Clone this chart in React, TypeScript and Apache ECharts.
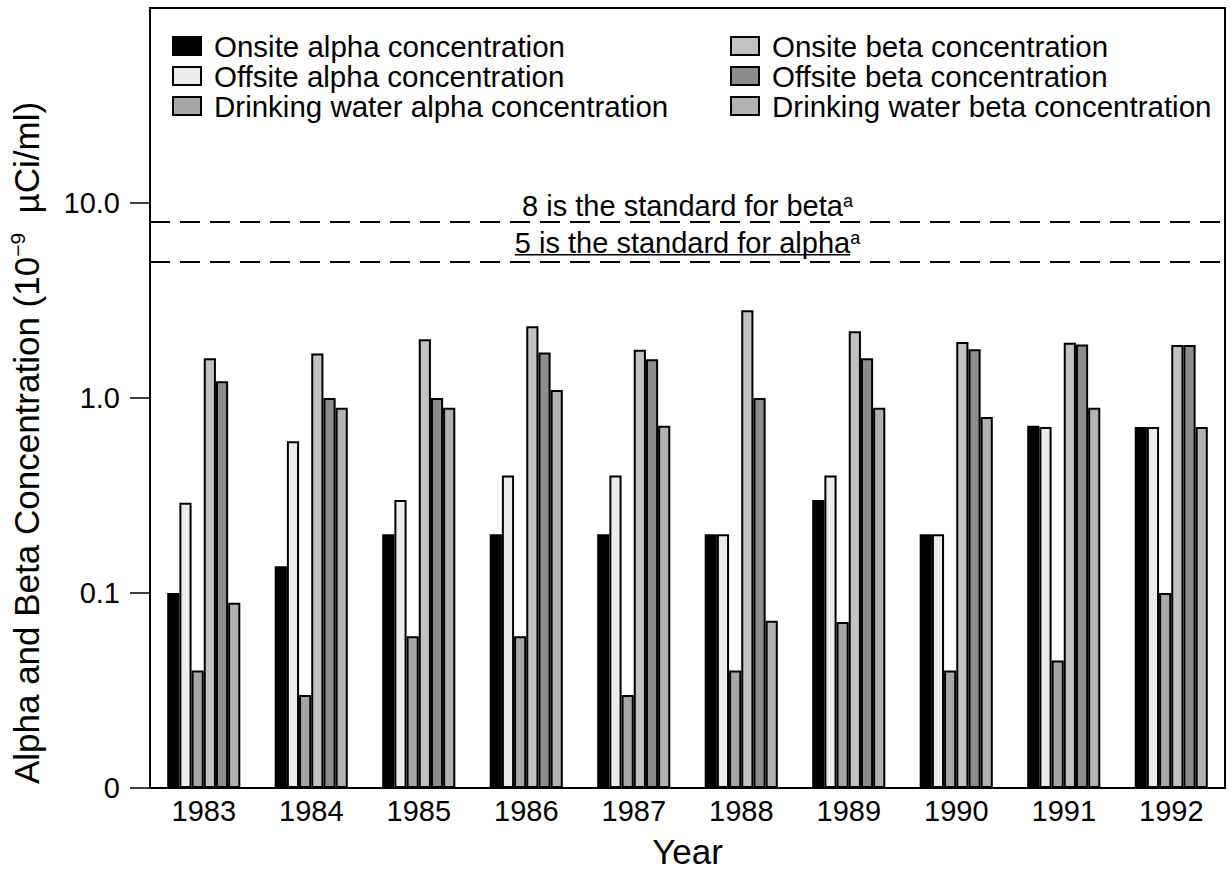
import React, { useEffect, useRef } from 'react';
import * as echarts from 'echarts';

const years = ['1983', '1984', '1985', '1986', '1987', '1988', '1989', '1990', '1991', '1992'];
const onsiteAlpha = [0.1, 0.137, 0.2, 0.2, 0.2, 0.2, 0.3, 0.2, 0.72, 0.71];
const offsiteAlpha = [0.29, 0.6, 0.3, 0.4, 0.4, 0.2, 0.4, 0.2, 0.71, 0.71];
const drinkingAlpha = [0.04, 0.03, 0.06, 0.06, 0.03, 0.04, 0.071, 0.04, 0.045, 0.1];
const onsiteBeta = [1.6, 1.69, 2.0, 2.33, 1.77, 2.82, 2.2, 1.94, 1.92, 1.87];
const offsiteBeta = [1.22, 1.0, 1.0, 1.71, 1.58, 1.0, 1.6, 1.78, 1.88, 1.87];
const drinkingBeta = [0.089, 0.89, 0.89, 1.1, 0.72, 0.072, 0.89, 0.8, 0.89, 0.71];
const yTickValues = [0.01, 0.1, 1, 10];
const yTickLabels = ['0', '0.1', '1.0', '10.0'];
const betaStandard = 8;
const alphaStandard = 5;
const betaLabel = '8 is the standard for beta';
const alphaLabel = '5 is the standard for alpha';
const footnoteMark = 'a';

const seriesNames = [
  'Onsite alpha concentration',
  'Offsite alpha concentration',
  'Drinking water alpha concentration',
  'Onsite beta concentration',
  'Offsite beta concentration',
  'Drinking water beta concentration',
];
const seriesData = [onsiteAlpha, offsiteAlpha, drinkingAlpha, onsiteBeta, offsiteBeta, drinkingBeta];
const seriesColors = ['#000000', '#ececec', '#a6a6a6', '#c2c2c2', '#8c8c8c', '#b2b2b2'];

const FONT = '"Liberation Sans", Arial, Helvetica, sans-serif';
const TEXT_SIZE = 29;
const LEGEND_SIZE = 29.5;
const SUP_SIZE = 18;

export default function App() {
  const ref = useRef<HTMLDivElement>(null);
  useEffect(() => {
    if (!ref.current) return;
    const chart = echarts.init(ref.current, undefined, { renderer: 'svg' });
    const series: any[] = seriesNames.map((name, i) => ({
      name,
      type: 'bar',
      data: seriesData[i],
      barGap: '0%',
      barCategoryGap: '32%',
      itemStyle: { color: seriesColors[i], borderColor: '#000', borderWidth: 2 },
      emphasis: { disabled: true },
    }));
    series[0].markLine = {
      silent: true,
      symbol: 'none',
      label: { show: false },
      lineStyle: { color: '#000', type: [20, 10], width: 2 },
      data: [{ yAxis: betaStandard }, { yAxis: alphaStandard }],
    };
    const legendCommon = {
      orient: 'vertical',
      top: 26,
      itemWidth: 28,
      itemHeight: 18,
      itemGap: 0,
      icon: 'rect',
      selectedMode: false,
      textStyle: {
        fontSize: LEGEND_SIZE,
        lineHeight: 28,
        fontFamily: FONT,
        color: '#000',
        padding: [0, 0, 0, 8],
      },
      itemStyle: { borderColor: '#000', borderWidth: 2 },
    };
    chart.setOption({
      animation: false,
      backgroundColor: '#fff',
      textStyle: { fontFamily: FONT, color: '#000' },
      grid: {
        left: 150,
        right: 6,
        top: 8,
        bottom: 82,
        containLabel: false,
        outerBoundsMode: 'none',
        show: true,
        borderColor: '#000',
        borderWidth: 2,
      },
      legend: [
        { ...legendCommon, data: seriesNames.slice(0, 3), left: 167 },
        { ...legendCommon, data: seriesNames.slice(3), left: 725 },
      ],
      xAxis: {
        type: 'category',
        data: years,
        boundaryGap: true,
        name: 'Year',
        nameLocation: 'middle',
        nameGap: 46,
        nameTextStyle: { fontSize: 35, fontFamily: FONT, color: '#000' },
        axisLine: { lineStyle: { color: '#000', width: 2 } },
        axisTick: { length: 20, interval: 0, lineStyle: { color: '#000', width: 1.5 } },
        axisLabel: { fontSize: TEXT_SIZE, fontFamily: FONT, color: '#000', margin: 8, interval: 0 },
        splitLine: { show: false },
      },
      yAxis: {
        type: 'log',
        logBase: 10,
        min: 0.01,
        max: 100,
        startValue: 0.01,
        name: '{n|Alpha and Beta Concentration (10}{s|−9}{n|  µCi/ml)}',
        nameLocation: 'middle',
        nameGap: 104,
        nameTextStyle: {
          fontFamily: FONT,
          color: '#000',
          padding: [0, 90, 0, 0],
          rich: {
            n: { fontSize: 35, fontFamily: FONT, color: '#000', lineHeight: 39 },
            s: { fontSize: 21, fontFamily: FONT, color: '#000', lineHeight: 21, verticalAlign: 'top' },
          },
        },
        axisLine: { show: true, lineStyle: { color: '#000', width: 2 } },
        axisTick: { show: true, length: 20, customValues: yTickValues, lineStyle: { color: '#000', width: 1.5 } },
        axisLabel: {
          fontSize: TEXT_SIZE,
          fontFamily: FONT,
          color: '#000',
          margin: 30,
          customValues: yTickValues,
          formatter: (v: number) => {
            const idx = yTickValues.findIndex((t) => Math.abs(t - v) / t < 1e-6);
            return idx >= 0 ? yTickLabels[idx] : '';
          },
        },
        splitLine: { show: false },
        minorTick: { show: false },
      },
      series,
    });

    const yBeta = chart.convertToPixel({ yAxisIndex: 0 }, betaStandard) as number;
    const yAlpha = chart.convertToPixel({ yAxisIndex: 0 }, alphaStandard) as number;
    const rect = (chart.getModel() as any).getComponent('grid').coordinateSystem.getRect();
    const centerX = rect.x + rect.width / 2;
    const ctx = document.createElement('canvas').getContext('2d');
    const measure = (t: string, size: number) => {
      if (!ctx) return t.length * size * 0.5;
      ctx.font = `${size}px "Liberation Sans", Arial, sans-serif`;
      return ctx.measureText(t).width;
    };
    const supW = measure(footnoteMark, SUP_SIZE);
    const betaW = measure(betaLabel, TEXT_SIZE) + supW;
    const alphaMainW = measure(alphaLabel, TEXT_SIZE);
    const alphaW = alphaMainW + supW;
    const betaX = centerX - betaW / 2;
    const alphaX = centerX - alphaW / 2;
    const rich = {
      s: { fontSize: SUP_SIZE, fontFamily: FONT, fill: '#000', lineHeight: 16, verticalAlign: 'top' },
    };
    chart.setOption({
      graphic: [
        {
          type: 'text',
          x: betaX,
          y: yBeta - 1,
          silent: true,
          style: {
            text: betaLabel + '{s|' + footnoteMark + '}',
            fontSize: TEXT_SIZE,
            fontFamily: FONT,
            fill: '#000',
            align: 'left',
            verticalAlign: 'bottom',
            rich,
          },
        },
        {
          type: 'text',
          x: alphaX,
          y: yAlpha - 4,
          silent: true,
          style: {
            text: alphaLabel + '{s|' + footnoteMark + '}',
            fontSize: TEXT_SIZE,
            fontFamily: FONT,
            fill: '#000',
            align: 'left',
            verticalAlign: 'bottom',
            rich,
          },
        },
        {
          type: 'line',
          silent: true,
          shape: { x1: alphaX, y1: yAlpha - 7, x2: alphaX + alphaMainW, y2: yAlpha - 7 },
          style: { stroke: '#000', lineWidth: 1.5 },
        },
      ],
    });
    return () => chart.dispose();
  }, []);
  return <div ref={ref} style={{ position: 'absolute', left: 0, top: 0, width: 1231, height: 870 }} />;
}
